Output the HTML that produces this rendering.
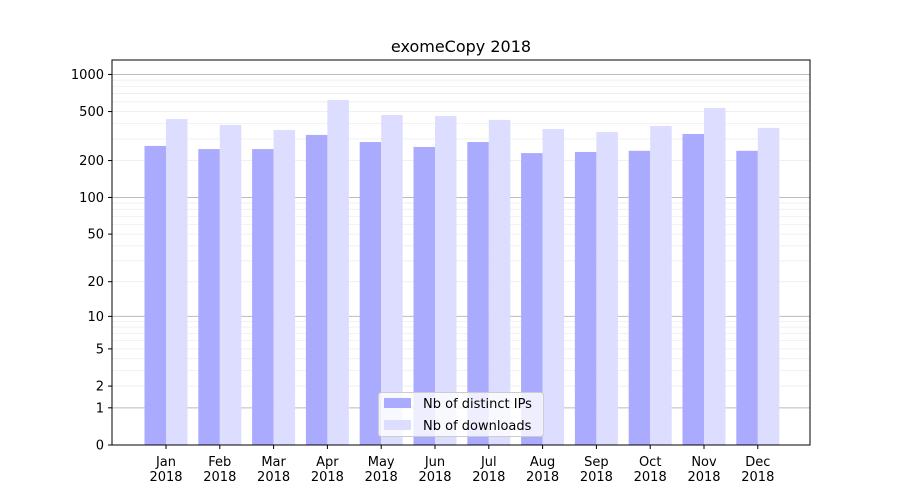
<!DOCTYPE html>
<html><head><meta charset="utf-8"><style>
body{margin:0;background:#fff;}
svg{display:block;font-family:"DejaVu Sans","Liberation Sans",sans-serif;}
</style></head><body>
<svg id="chart" width="900" height="500">
<text x="461" y="52" text-anchor="middle" font-size="16">exomeCopy 2018</text>
<g id="grid"></g><g id="bars"></g><g id="axes"></g>
<rect x="112" y="60" width="698" height="385" fill="none" stroke="#000" stroke-width="1"/>
<g>
<rect x="378.5" y="392.5" width="165" height="44" rx="3" fill="#fff" fill-opacity="0.8" stroke="#ccc"/>
<rect x="384" y="398" width="27" height="10" fill="#aaaaff"/>
<text x="423" y="408" font-size="13">Nb of distinct IPs</text>
<rect x="384" y="420" width="27" height="10" fill="#ddddff"/>
<text x="423" y="430" font-size="13">Nb of downloads</text>
</g>
</svg>
<script>
const months=["Jan","Feb","Mar","Apr","May","Jun","Jul","Aug","Sep","Oct","Nov","Dec"];
const distinctIPs=[263,248,248,323,283,258,283,230,235,240,329,240];
const downloads=[435,389,354,621,469,460,428,361,341,382,535,368];
const yTicks=[0,1,2,5,10,20,50,100,200,500,1000];
const NS="http://www.w3.org/2000/svg";
const y0=445,k=123.5,x0=166,dx=53.8,bw=21.5;
function yS(v){return y0-k*Math.log10(1+v);}
function xS(i){return x0+i*dx;}
function mk(t,a,p){const e=document.createElementNS(NS,t);for(const n in a)e.setAttribute(n,a[n]);p.appendChild(e);return e;}
const grid=document.getElementById('grid'),bars=document.getElementById('bars'),axes=document.getElementById('axes');
[1,10,100,1000].forEach(d=>{for(let m=1;m<10;m++){const v=d*m;if(yS(v)<60)continue;
const l=mk('line',{x1:112,x2:810,y1:yS(v),y2:yS(v),stroke:m==1?'#bbb':'#eee','stroke-width':m==1?1:0.8},grid);

}});
months.forEach((m,i)=>{
const a=mk('rect',{x:xS(i)-bw,y:yS(distinctIPs[i]),width:bw,height:y0-yS(distinctIPs[i]),fill:'#aaaaff'},bars);


const b=mk('rect',{x:xS(i),y:yS(downloads[i]),width:bw,height:y0-yS(downloads[i]),fill:'#ddddff'},bars);


mk('line',{x1:xS(i),x2:xS(i),y1:445,y2:449,stroke:'#000'},axes);
const t=mk('text',{x:xS(i),y:466,'text-anchor':'middle','font-size':13},axes);


t.innerHTML='<tspan x="'+xS(i)+'">'+m+'</tspan><tspan x="'+xS(i)+'" dy="15">2018</tspan>';
});
yTicks.forEach(v=>{
mk('line',{x1:108,x2:112,y1:yS(v),y2:yS(v),stroke:'#000'},axes);
const t=mk('text',{x:104,y:yS(v)+4.5,'text-anchor':'end','font-size':13},axes);


t.textContent=v;
});
</script>
</body></html>
